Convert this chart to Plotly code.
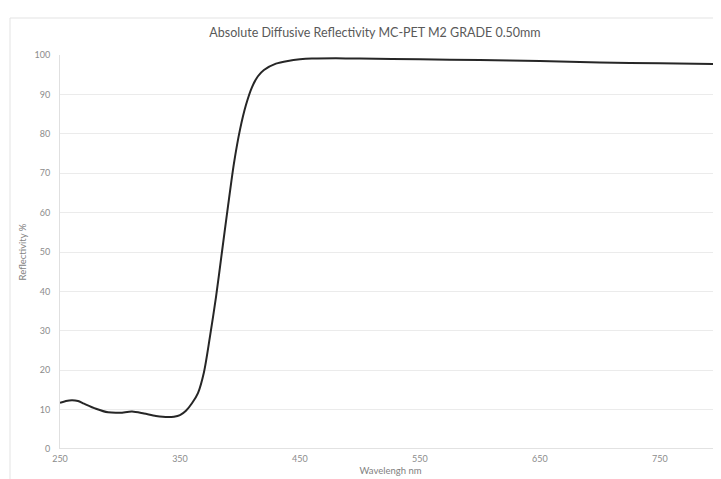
import plotly.graph_objects as go

wavelength = [250, 255, 260, 265, 270, 280, 290, 300, 310, 320, 330, 340, 345, 350,
              355, 360, 365, 370, 375, 380, 385, 390, 395, 400, 405, 410, 415, 420,
              430, 440, 450, 460, 480, 500, 550, 600, 650, 700, 750, 800]
reflectivity = [11.7, 12.2, 12.4, 12.2, 11.5, 10.2, 9.3, 9.2, 9.5, 9.0, 8.4, 8.1, 8.2, 8.6,
                9.7, 11.6, 14.2, 19.5, 28.5, 38.5, 50.0, 61.5, 72.5, 81.0, 87.3, 91.8, 94.6, 96.2,
                97.8, 98.5, 98.9, 99.1, 99.2, 99.1, 98.9, 98.7, 98.5, 98.1, 97.9, 97.7]
x_ticks = [250, 350, 450, 550, 650, 750]
y_ticks = [0, 10, 20, 30, 40, 50, 60, 70, 80, 90, 100]

W, H = 721, 479
L, R, T, B = 52, 8, 47, 38
pw, ph = W - L - R, H - T - B

fig = go.Figure()
fig.add_trace(go.Scatter(x=wavelength, y=reflectivity, mode="lines",
                         line=dict(color="#262626", width=2, shape="spline", smoothing=0.8),
                         showlegend=False, hoverinfo="skip"))

font_family = "Lato, 'Open Sans', sans-serif"
fig.update_layout(
    width=W, height=H,
    margin=dict(l=L, r=R, t=T, b=B),
    paper_bgcolor="white", plot_bgcolor="white",
    title=dict(text="Absolute Diffusive Reflectivity MC-PET M2 GRADE 0.50mm",
               x=367 / W, xanchor="center", y=1 - 25 / H, yanchor="middle",
               font=dict(family=font_family, size=12.5, color="#595959")),
    xaxis=dict(range=[250, 801], tickvals=x_ticks, ticktext=[str(v) for v in x_ticks],
               showgrid=False, zeroline=False, showline=False, ticks="",
               ticklabelstandoff=3,
               tickfont=dict(family=font_family, size=9, color="#8c8c8c"),
               title=dict(text="Wavelengh nm", standoff=4,
                          font=dict(family=font_family, size=9.5, color="#7f7f7f"))),
    yaxis=dict(range=[0, 100], tickvals=y_ticks, showgrid=True, gridcolor="#ebebeb",
               gridwidth=1, zeroline=False, showline=True, linecolor="#e0e0e0",
               ticks="", ticklabelstandoff=7,
               tickfont=dict(family=font_family, size=9, color="#8c8c8c"),
               title=dict(text="Reflectivity %", standoff=6,
                          font=dict(family=font_family, size=9.5, color="#7f7f7f"))),
)
# x axis baseline at 0
fig.add_shape(type="line", xref="paper", yref="y", x0=0, x1=1, y0=0, y1=0,
              line=dict(color="#d9d9d9", width=1.5), layer="below")
# chart area border
fig.add_shape(type="rect", xref="paper", yref="paper",
              x0=(2 - L) / pw, x1=(W - 0.5 - L) / pw,
              y0=-(B - 0.5) / ph, y1=1 + (T - 10) / ph,
              line=dict(color="#e3e3e3", width=1), layer="below")

fig.write_html("out.html")
